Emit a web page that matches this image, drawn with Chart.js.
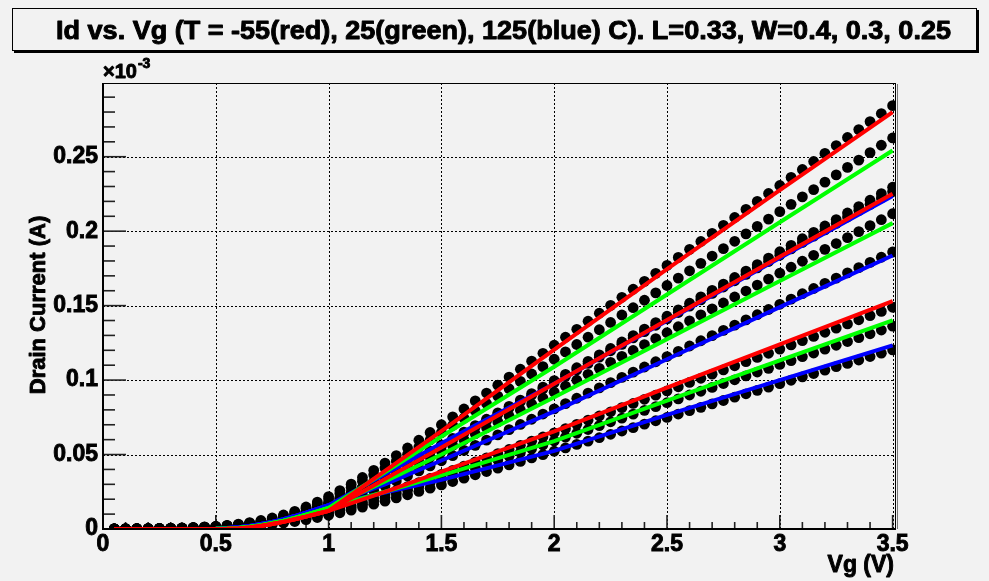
<!DOCTYPE html>
<html>
<head>
<meta charset="utf-8">
<title>Id vs. Vg</title>
<script src="https://cdn.jsdelivr.net/npm/chart.js@4.4.1/dist/chart.umd.min.js"></script>
<style>
    html, body { margin: 0; padding: 0; background: #f2f2f2; }
    canvas { display: block; }
</style>
</head>
<body>
<canvas id="idVgChart" width="989" height="581"></canvas>
<script>
// --- Data (drain current, in units of 1e-3 A) ---
const gateVoltage = [
    0.05, 0.10, 0.15, 0.20, 0.25, 0.30, 0.35, 0.40, 0.45, 0.50,
    0.55, 0.60, 0.65, 0.70, 0.75, 0.80, 0.85, 0.90, 0.95, 1.00,
    1.05, 1.10, 1.15, 1.20, 1.25, 1.30, 1.35, 1.40, 1.45, 1.50,
    1.55, 1.60, 1.65, 1.70, 1.75, 1.80, 1.85, 1.90, 1.95, 2.00,
    2.05, 2.10, 2.15, 2.20, 2.25, 2.30, 2.35, 2.40, 2.45, 2.50,
    2.55, 2.60, 2.65, 2.70, 2.75, 2.80, 2.85, 2.90, 2.95, 3.00,
    3.05, 3.10, 3.15, 3.20, 3.25, 3.30, 3.35, 3.40, 3.45, 3.50
];

// measured points, W=0.4
const idW40Tm55 = [
    0.0001, 0.0002, 0.0002, 0.0003, 0.0004, 0.0005, 0.0007, 0.0010, 0.0014, 0.0018,
    0.0024, 0.0033, 0.0043, 0.0057, 0.0074, 0.0094, 0.0119, 0.0148, 0.0181, 0.0218,
    0.0258, 0.0301, 0.0346, 0.0394, 0.0443, 0.0493, 0.0544, 0.0596, 0.0648, 0.0700,
    0.0753, 0.0806, 0.0860, 0.0913, 0.0966, 0.1020, 0.1073, 0.1127, 0.1180, 0.1234,
    0.1288, 0.1341, 0.1395, 0.1449, 0.1502, 0.1556, 0.1610, 0.1663, 0.1717, 0.1770,
    0.1824, 0.1878, 0.1931, 0.1985, 0.2039, 0.2092, 0.2146, 0.2200, 0.2253, 0.2307,
    0.2361, 0.2414, 0.2468, 0.2522, 0.2575, 0.2629, 0.2682, 0.2736, 0.2790, 0.2843
];
const idW40T25 = [
    0.0001, 0.0001, 0.0002, 0.0003, 0.0004, 0.0005, 0.0007, 0.0009, 0.0013, 0.0017,
    0.0023, 0.0030, 0.0040, 0.0052, 0.0068, 0.0087, 0.0110, 0.0137, 0.0167, 0.0201,
    0.0238, 0.0278, 0.0320, 0.0364, 0.0409, 0.0455, 0.0502, 0.0550, 0.0598, 0.0647,
    0.0696, 0.0745, 0.0794, 0.0843, 0.0892, 0.0942, 0.0991, 0.1041, 0.1090, 0.1140,
    0.1189, 0.1239, 0.1288, 0.1338, 0.1387, 0.1437, 0.1486, 0.1536, 0.1586, 0.1635,
    0.1685, 0.1734, 0.1784, 0.1833, 0.1883, 0.1932, 0.1982, 0.2032, 0.2081, 0.2131,
    0.2180, 0.2230, 0.2279, 0.2329, 0.2378, 0.2428, 0.2477, 0.2527, 0.2577, 0.2626
];
const idW40T125 = [
    0.0001, 0.0001, 0.0002, 0.0002, 0.0003, 0.0004, 0.0006, 0.0008, 0.0011, 0.0015,
    0.0020, 0.0026, 0.0034, 0.0045, 0.0059, 0.0075, 0.0095, 0.0118, 0.0144, 0.0173,
    0.0205, 0.0240, 0.0276, 0.0314, 0.0353, 0.0393, 0.0433, 0.0475, 0.0516, 0.0558,
    0.0600, 0.0643, 0.0685, 0.0727, 0.0770, 0.0813, 0.0855, 0.0898, 0.0941, 0.0983,
    0.1026, 0.1069, 0.1112, 0.1154, 0.1197, 0.1240, 0.1283, 0.1325, 0.1368, 0.1411,
    0.1454, 0.1496, 0.1539, 0.1582, 0.1625, 0.1667, 0.1710, 0.1753, 0.1796, 0.1838,
    0.1881, 0.1924, 0.1967, 0.2009, 0.2052, 0.2095, 0.2138, 0.2180, 0.2223, 0.2266
];
// measured points, W=0.3
const idW30Tm55 = [
    0.0001, 0.0001, 0.0002, 0.0002, 0.0003, 0.0004, 0.0006, 0.0008, 0.0011, 0.0015,
    0.0020, 0.0026, 0.0035, 0.0046, 0.0059, 0.0076, 0.0096, 0.0119, 0.0146, 0.0176,
    0.0208, 0.0243, 0.0280, 0.0318, 0.0357, 0.0398, 0.0439, 0.0481, 0.0523, 0.0565,
    0.0608, 0.0651, 0.0694, 0.0737, 0.0780, 0.0823, 0.0866, 0.0909, 0.0953, 0.0996,
    0.1039, 0.1083, 0.1126, 0.1169, 0.1212, 0.1256, 0.1299, 0.1342, 0.1386, 0.1429,
    0.1472, 0.1516, 0.1559, 0.1602, 0.1645, 0.1689, 0.1732, 0.1775, 0.1819, 0.1862,
    0.1905, 0.1949, 0.1992, 0.2035, 0.2078, 0.2122, 0.2165, 0.2208, 0.2252, 0.2295
];
const idW30T25 = [
    0.0001, 0.0001, 0.0002, 0.0002, 0.0003, 0.0004, 0.0005, 0.0007, 0.0010, 0.0014,
    0.0018, 0.0024, 0.0032, 0.0042, 0.0055, 0.0070, 0.0089, 0.0110, 0.0135, 0.0162,
    0.0192, 0.0224, 0.0258, 0.0293, 0.0330, 0.0367, 0.0405, 0.0444, 0.0482, 0.0522,
    0.0561, 0.0600, 0.0640, 0.0680, 0.0719, 0.0759, 0.0799, 0.0839, 0.0879, 0.0919,
    0.0959, 0.0999, 0.1039, 0.1079, 0.1119, 0.1159, 0.1199, 0.1238, 0.1278, 0.1318,
    0.1358, 0.1398, 0.1438, 0.1478, 0.1518, 0.1558, 0.1598, 0.1638, 0.1678, 0.1718,
    0.1758, 0.1798, 0.1838, 0.1878, 0.1917, 0.1957, 0.1997, 0.2037, 0.2077, 0.2117
];
const idW30T125 = [
    0.0001, 0.0001, 0.0001, 0.0002, 0.0003, 0.0004, 0.0005, 0.0007, 0.0009, 0.0012,
    0.0016, 0.0021, 0.0028, 0.0037, 0.0048, 0.0062, 0.0078, 0.0097, 0.0118, 0.0142,
    0.0169, 0.0197, 0.0227, 0.0258, 0.0290, 0.0322, 0.0356, 0.0390, 0.0424, 0.0458,
    0.0493, 0.0528, 0.0562, 0.0597, 0.0632, 0.0667, 0.0702, 0.0737, 0.0772, 0.0807,
    0.0842, 0.0878, 0.0913, 0.0948, 0.0983, 0.1018, 0.1053, 0.1088, 0.1123, 0.1158,
    0.1193, 0.1229, 0.1264, 0.1299, 0.1334, 0.1369, 0.1404, 0.1439, 0.1474, 0.1509,
    0.1544, 0.1580, 0.1615, 0.1650, 0.1685, 0.1720, 0.1755, 0.1790, 0.1825, 0.1860
];
// measured points, W=0.25
const idW25Tm55 = [
    0.0001, 0.0001, 0.0001, 0.0002, 0.0002, 0.0003, 0.0004, 0.0005, 0.0007, 0.0010,
    0.0013, 0.0017, 0.0023, 0.0030, 0.0039, 0.0049, 0.0062, 0.0077, 0.0095, 0.0114,
    0.0135, 0.0158, 0.0181, 0.0206, 0.0232, 0.0258, 0.0285, 0.0312, 0.0339, 0.0367,
    0.0394, 0.0422, 0.0450, 0.0478, 0.0506, 0.0534, 0.0562, 0.0590, 0.0618, 0.0646,
    0.0674, 0.0703, 0.0731, 0.0759, 0.0787, 0.0815, 0.0843, 0.0871, 0.0899, 0.0927,
    0.0955, 0.0984, 0.1012, 0.1040, 0.1068, 0.1096, 0.1124, 0.1152, 0.1180, 0.1208,
    0.1236, 0.1265, 0.1293, 0.1321, 0.1349, 0.1377, 0.1405, 0.1433, 0.1461, 0.1489
];
const idW25T25 = [
    0.0001, 0.0001, 0.0001, 0.0001, 0.0002, 0.0003, 0.0004, 0.0005, 0.0006, 0.0009,
    0.0012, 0.0016, 0.0021, 0.0027, 0.0035, 0.0045, 0.0057, 0.0071, 0.0087, 0.0104,
    0.0124, 0.0144, 0.0166, 0.0189, 0.0212, 0.0236, 0.0261, 0.0285, 0.0310, 0.0335,
    0.0361, 0.0386, 0.0412, 0.0437, 0.0463, 0.0489, 0.0514, 0.0540, 0.0565, 0.0591,
    0.0617, 0.0643, 0.0668, 0.0694, 0.0720, 0.0745, 0.0771, 0.0797, 0.0822, 0.0848,
    0.0874, 0.0900, 0.0925, 0.0951, 0.0977, 0.1002, 0.1028, 0.1054, 0.1079, 0.1105,
    0.1131, 0.1157, 0.1182, 0.1208, 0.1234, 0.1259, 0.1285, 0.1311, 0.1336, 0.1362
];
const idW25T125 = [
    0.0000, 0.0001, 0.0001, 0.0001, 0.0002, 0.0002, 0.0003, 0.0004, 0.0006, 0.0008,
    0.0010, 0.0014, 0.0018, 0.0024, 0.0031, 0.0040, 0.0050, 0.0063, 0.0077, 0.0092,
    0.0109, 0.0127, 0.0147, 0.0167, 0.0187, 0.0209, 0.0230, 0.0252, 0.0274, 0.0296,
    0.0319, 0.0341, 0.0364, 0.0386, 0.0409, 0.0431, 0.0454, 0.0477, 0.0499, 0.0522,
    0.0545, 0.0568, 0.0590, 0.0613, 0.0636, 0.0658, 0.0681, 0.0704, 0.0727, 0.0749,
    0.0772, 0.0795, 0.0817, 0.0840, 0.0863, 0.0885, 0.0908, 0.0931, 0.0953, 0.0976,
    0.0999, 0.1022, 0.1044, 0.1067, 0.1090, 0.1112, 0.1135, 0.1158, 0.1181, 0.1203
];

// fit curves
const fitVoltage = [0.05, 0.5, 0.55, 0.6, 0.65, 0.7, 0.75, 0.8, 0.85, 0.9, 0.95, 1.0, 1.25, 1.5, 2.0, 2.5, 3.0, 3.5];
const fitW40Tm55 = [0, 0, 0.0001, 0.0004, 0.0010, 0.0020, 0.0033, 0.0048, 0.0065, 0.0083, 0.0102, 0.0122, 0.0390, 0.0658, 0.1205, 0.1745, 0.2275, 0.2799];
const fitW40T25  = [0, 0.0001, 0.0003, 0.0007, 0.0015, 0.0026, 0.0040, 0.0056, 0.0075, 0.0096, 0.0118, 0.0141, 0.0381, 0.0621, 0.1090, 0.1575, 0.2060, 0.2542];
const fitW40T125 = [0, 0.0002, 0.0006, 0.0012, 0.0021, 0.0033, 0.0048, 0.0066, 0.0087, 0.0110, 0.0135, 0.0160, 0.0368, 0.0576, 0.0975, 0.1398, 0.1820, 0.2237];
const fitW30Tm55 = [0, 0, 0.0001, 0.0004, 0.0010, 0.0020, 0.0033, 0.0048, 0.0065, 0.0083, 0.0102, 0.0122, 0.0335, 0.0548, 0.0976, 0.1403, 0.1828, 0.2251];
const fitW30T25  = [0, 0.0001, 0.0003, 0.0007, 0.0015, 0.0026, 0.0040, 0.0056, 0.0075, 0.0096, 0.0118, 0.0141, 0.0320, 0.0500, 0.0885, 0.1275, 0.1665, 0.2054];
const fitW30T125 = [0, 0.0002, 0.0006, 0.0012, 0.0021, 0.0033, 0.0048, 0.0066, 0.0087, 0.0110, 0.0135, 0.0160, 0.0300, 0.0460, 0.0790, 0.1140, 0.1490, 0.1837];
const fitW25Tm55 = [0, 0, 0.0001, 0.0004, 0.0010, 0.0020, 0.0033, 0.0048, 0.0065, 0.0083, 0.0102, 0.0122, 0.0250, 0.0385, 0.0655, 0.0950, 0.1240, 0.1531];
const fitW25T25  = [0, 0.0001, 0.0003, 0.0007, 0.0015, 0.0026, 0.0040, 0.0056, 0.0075, 0.0096, 0.0118, 0.0141, 0.0250, 0.0360, 0.0590, 0.0862, 0.1132, 0.1401];
const fitW25T125 = [0, 0.0002, 0.0006, 0.0012, 0.0021, 0.0033, 0.0048, 0.0066, 0.0087, 0.0110, 0.0135, 0.0160, 0.0245, 0.0330, 0.0525, 0.0767, 0.1000, 0.1233];

// axis ticks
const xTickValues = [0, 0.5, 1, 1.5, 2, 2.5, 3, 3.5];
const xTickLabels = ['0', '0.5', '1', '1.5', '2', '2.5', '3', '3.5'];
const yTickValues = [0, 0.05, 0.1, 0.15, 0.2, 0.25];
const yTickLabels = ['0', '0.05', '0.1', '0.15', '0.2', '0.25'];

const titleText = 'Id vs. Vg (T = -55(red), 25(green), 125(blue) C). L=0.33, W=0.4, 0.3, 0.25';
const FONT = "'Liberation Sans', Arial, sans-serif";

document.addEventListener('DOMContentLoaded', () => {

    const toPoints = (xs, ys) => xs.map((x, i) => ({ x: x, y: ys[i] }));

    const dotSet = (ys) => ({
        data: toPoints(gateVoltage, ys),
        showLine: false,
        pointRadius: 5.4,
        pointBackgroundColor: '#000',
        pointBorderWidth: 0,
        order: 10
    });

    const fitSet = (ys, color, order) => ({
        data: toPoints(fitVoltage, ys),
        showLine: true,
        borderColor: color,
        borderWidth: 4,
        pointRadius: 0,
        tension: 0,
        order: order
    });

    const RED = '#ff0000', GREEN = '#00ff00', BLUE = '#0000ff';

    // heavier text, closer to the ROOT bold helvetica
    const boldText = (ctx, text, x, y) => {
        ctx.lineWidth = 0.9;
        ctx.strokeStyle = '#000';
        ctx.lineJoin = 'round';
        ctx.strokeText(text, x, y);
        ctx.fillText(text, x, y);
    };

    // --- ROOT-like frame, grid, ticks and texts ---
    const rootStyle = {
        id: 'rootStyle',
        beforeDraw: (chart) => {
            const { ctx, width, height } = chart;
            ctx.save();
            ctx.fillStyle = '#f2f2f2';
            ctx.fillRect(0, 0, width, height);
            ctx.restore();
        },
        beforeDatasetsDraw: (chart) => {
            const { ctx, chartArea: a, scales: { x, y } } = chart;
            ctx.save();
            // dotted grid
            ctx.strokeStyle = '#000';
            ctx.lineWidth = 1;
            ctx.setLineDash([2, 2]);
            yTickValues.forEach(v => {
                if (v === 0) return;
                const py = Math.round(y.getPixelForValue(v)) + 0.5;
                ctx.beginPath(); ctx.moveTo(a.left, py); ctx.lineTo(a.right, py); ctx.stroke();
            });
            xTickValues.forEach(v => {
                if (v === 0) return;
                const px = Math.round(x.getPixelForValue(v)) + 0.5;
                ctx.beginPath(); ctx.moveTo(px, a.top); ctx.lineTo(px, a.bottom); ctx.stroke();
            });
            // ticks inside the frame
            ctx.setLineDash([]);
            ctx.strokeStyle = '#222';
            ctx.lineWidth = 1.6;
            for (let i = 0; i <= 29; i++) {
                const py = y.getPixelForValue(i * 0.01);
                const len = i % 5 === 0 ? 23 : 12;
                ctx.beginPath(); ctx.moveTo(a.left, py); ctx.lineTo(a.left + len, py); ctx.stroke();
            }
            for (let i = 0; i <= 35; i++) {
                const px = x.getPixelForValue(i * 0.1);
                const len = i % 5 === 0 ? 14 : 7;
                ctx.beginPath(); ctx.moveTo(px, a.bottom); ctx.lineTo(px, a.bottom - len); ctx.stroke();
            }
            ctx.restore();
        },
        afterDatasetsDraw: (chart) => {
            const { ctx, chartArea: a } = chart;
            ctx.save();
            ctx.strokeStyle = '#000';
            ctx.lineWidth = 1;
            ctx.strokeRect(a.left + 0.5, a.top + 0.5, a.right - a.left - 1, a.bottom - a.top - 1);
            ctx.strokeStyle = '#777';
            ctx.beginPath(); ctx.moveTo(a.right + 1.5, a.top + 1); ctx.lineTo(a.right + 1.5, a.bottom); ctx.stroke();
            ctx.strokeStyle = '#000';
            ctx.lineWidth = 2;
            ctx.beginPath();
            ctx.moveTo(a.left, a.top);
            ctx.lineTo(a.left, a.bottom);
            ctx.lineTo(a.right, a.bottom);
            ctx.stroke();
            ctx.restore();
        },
        afterDraw: (chart) => {
            const { ctx, chartArea: a } = chart;
            ctx.save();

            // title box with shadow
            ctx.fillStyle = '#000';
            ctx.fillRect(14, 10, 965, 43);
            ctx.fillStyle = '#f2f2f2';
            ctx.fillRect(12, 8, 965, 43);
            ctx.strokeStyle = '#000';
            ctx.lineWidth = 1;
            ctx.strokeRect(12.5, 8.5, 964, 42);

            ctx.fillStyle = '#000';
            ctx.font = `bold 25px ${FONT}`;
            ctx.textAlign = 'left';
            ctx.textBaseline = 'alphabetic';
            const tw = ctx.measureText(titleText).width;
            ctx.save();
            ctx.translate(56, 39);
            ctx.scale(895 / tw, 1);
            boldText(ctx, titleText, 0, 0);
            ctx.restore();

            // exponent
            ctx.font = `bold 20px ${FONT}`;
            boldText(ctx, '\u00d710', a.left, 78);
            const ew = ctx.measureText('\u00d710').width;
            ctx.font = `bold 14px ${FONT}`;
            boldText(ctx, '-3', a.left + ew + 1, 68);

            // axis titles
            ctx.font = `bold 23px ${FONT}`;
            ctx.textAlign = 'right';
            boldText(ctx, 'Vg (V)', 894, 572);

            ctx.save();
            ctx.font = `bold 22px ${FONT}`;
            ctx.translate(45, 305);
            ctx.rotate(-Math.PI / 2);
            ctx.textAlign = 'center';
            boldText(ctx, 'Drain Current (A)', 0, 0);
            ctx.restore();

            ctx.restore();
        }
    };

    const tickFont = { family: FONT, size: 23, weight: 'bold' };

    const ctx = document.getElementById('idVgChart');
    new Chart(ctx, {
        type: 'scatter',
        data: {
            datasets: [
                dotSet(idW40Tm55), dotSet(idW40T25), dotSet(idW40T125),
                dotSet(idW30Tm55), dotSet(idW30T25), dotSet(idW30T125),
                dotSet(idW25Tm55), dotSet(idW25T25), dotSet(idW25T125),
                fitSet(fitW40T125, BLUE, 2), fitSet(fitW30T125, BLUE, 2), fitSet(fitW25T125, BLUE, 2),
                fitSet(fitW40T25, GREEN, 1), fitSet(fitW30T25, GREEN, 1), fitSet(fitW25T25, GREEN, 1),
                fitSet(fitW40Tm55, RED, 0), fitSet(fitW30Tm55, RED, 0), fitSet(fitW25Tm55, RED, 0)
            ]
        },
        plugins: [rootStyle],
        options: {
            responsive: false,
            animation: false,
            devicePixelRatio: 1,
            layout: { padding: { top: 83, right: 93, left: 0, bottom: 0 } },
            plugins: {
                legend: { display: false },
                tooltip: { enabled: false }
            },
            scales: {
                x: {
                    type: 'linear',
                    min: 0,
                    max: 3.515,
                    afterFit: (scale) => { scale.height = 52; },
                    afterBuildTicks: (scale) => { scale.ticks = xTickValues.map(v => ({ value: v })); },
                    grid: { display: false, drawTicks: false },
                    border: { display: false },
                    ticks: {
                        autoSkip: false,
                        maxRotation: 0,
                        padding: 2,
                        color: '#000',
                        textStrokeColor: '#000',
                        textStrokeWidth: 0.9,
                        font: tickFont,
                        callback: (value, index) => xTickLabels[index]
                    }
                },
                y: {
                    type: 'linear',
                    min: 0,
                    max: 0.2995,
                    afterFit: (scale) => { scale.width = 103; },
                    afterBuildTicks: (scale) => { scale.ticks = yTickValues.map(v => ({ value: v })); },
                    grid: { display: false, drawTicks: false },
                    border: { display: false },
                    ticks: {
                        autoSkip: false,
                        padding: 5,
                        color: '#000',
                        textStrokeColor: '#000',
                        textStrokeWidth: 0.9,
                        font: tickFont,
                        callback: (value, index) => yTickLabels[index]
                    }
                }
            }
        }
    });
});
</script>
</body>
</html>
